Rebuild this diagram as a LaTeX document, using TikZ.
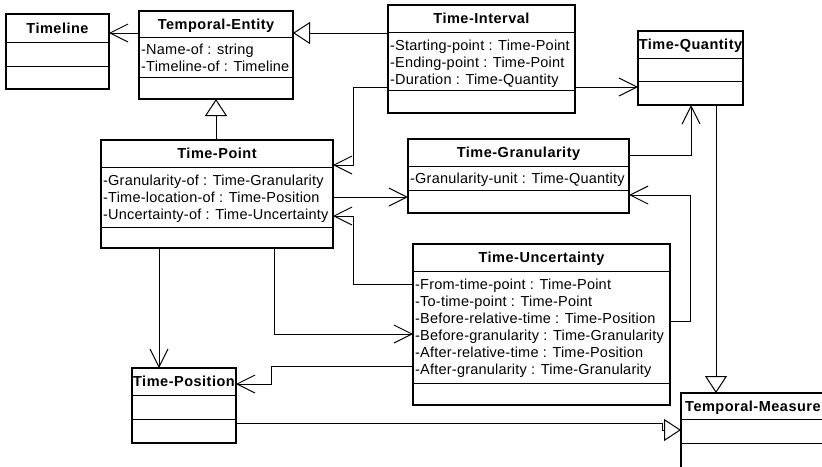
\documentclass[tikz,border=0pt]{standalone}
\usepackage{fontspec}
\setmainfont{Liberation Sans}
\newfontfamily\attrfont[LetterSpace=1.5]{Liberation Sans}
\newfontfamily\titlefont[LetterSpace=3.5]{Liberation Sans}
\usetikzlibrary{arrows.meta}

% A UML class box: name, left, top, right, bottom, title separator y, attribute separator y
\newcommand\umlclass[7]{%
  \node[classbox, minimum width={(#4-#2)*1pt}, minimum height={(#5-#3)*1pt}]
    (#1) at ({(#2+#4)/2},{(#3+#5)/2}) {};
  \draw[sepline] (#2,#6) -- (#4,#6);
  \draw[sepline] (#2,#7) -- (#4,#7);
}

\begin{document}
\begin{tikzpicture}[x=1pt,y=-1pt,
  classbox/.style={draw=black, line width=1.1pt, rectangle, inner sep=0pt, outer sep=0pt, fill=white},
  sepline/.style={line width=0.9pt},
  ctitle/.style={font=\titlefont\fontsize{14.5}{17}\selectfont\bfseries, inner sep=0pt, anchor=base, yshift=-5.2pt},
  cattr/.style={font=\attrfont\fontsize{14.5}{17}\selectfont, inner sep=0pt, anchor=base west, yshift=-5.2pt},
  assoc/.style={line width=0.9pt, -{Straight Barb[length=18pt, width=18pt, line width=1pt]}},
  gen/.style={line width=0.9pt, -{Triangle[open, length=17pt, width=22pt, line width=1pt, fill=white]}},
]
\useasboundingbox (0,0) rectangle (822,466);
\clip (0,0) rectangle (822,466);
\fill[white] (0,0) rectangle (822,466);

% ---- classes ----
\umlclass{tl}{6}{14}{109}{89}{42}{66}
\node[ctitle] (tl-t) at (57.5,28) {Timeline};

\umlclass{te}{139}{11}{293}{99}{37}{77}
\node[ctitle] (te-t) at (216,24) {Temporal-Entity};
\node[cattr] (te-a1) at (141,49) {-Name-of : string};
\node[cattr] (te-a2) at (141,66) {-Timeline-of : Timeline};

\umlclass{ti}{388}{5}{575}{113}{32}{90}
\node[ctitle] (ti-t) at (481.5,18.5) {Time-Interval};
\node[cattr] (ti-a1) at (390,45) {-Starting-point : Time-Point};
\node[cattr] (ti-a2) at (390,62) {-Ending-point : Time-Point};
\node[cattr] (ti-a3) at (390,79) {-Duration : Time-Quantity};

\umlclass{tq}{638}{31}{743}{105}{58}{81}
\node[ctitle] (tq-t) at (690.5,44.5) {Time-Quantity};

\umlclass{tp}{101}{140}{333}{248}{167}{227}
\node[ctitle] (tp-t) at (217,153.5) {Time-Point};
\node[cattr] (tp-a1) at (103,180) {-Granularity-of : Time-Granularity};
\node[cattr] (tp-a2) at (103,197) {-Time-location-of : Time-Position};
\node[cattr] (tp-a3) at (103,214) {-Uncertainty-of : Time-Uncertainty};

\umlclass{tg}{408}{139}{629}{213}{166}{190}
\node[ctitle] (tg-t) at (518.5,152.5) {Time-Granularity};
\node[cattr] (tg-a1) at (410,178) {-Granularity-unit : Time-Quantity};

\umlclass{tu}{413}{244}{670}{405}{271}{383}
\node[ctitle] (tu-t) at (541.5,257.5) {Time-Uncertainty};
\node[cattr] (tu-a1) at (415,284) {-From-time-point : Time-Point};
\node[cattr] (tu-a2) at (415,301) {-To-time-point : Time-Point};
\node[cattr] (tu-a3) at (415,318) {-Before-relative-time : Time-Position};
\node[cattr] (tu-a4) at (415,335) {-Before-granularity : Time-Granularity};
\node[cattr] (tu-a5) at (415,352) {-After-relative-time : Time-Position};
\node[cattr] (tu-a6) at (415,369) {-After-granularity : Time-Granularity};

\umlclass{tpos}{132}{368}{236}{443}{395}{419}
\node[ctitle] (tpos-t) at (184,381.5) {Time-Position};

% Temporal-Measure runs off the right and bottom edges: only its left and top sides show
\node[classbox, draw=none, minimum width=189pt, minimum height=107pt] (tm) at (775.5,446.5) {};
\draw[line width=1.1pt] (tm.north east) -- (tm.north west) -- (tm.south west);
\draw[sepline] (681,419) -- (870,419);
\draw[sepline] (681,443) -- (870,443);
\node[ctitle, anchor=base west] (tm-t) at (685,406) {Temporal-Measure};

% ---- generalisations ----
\draw[gen] (ti.west |- 0,33) -- (te.east |- 0,33);
\draw[gen] (tp.north -| te.south) -- (te.south);
\draw[gen] (716,0 |- tq.south) -- (716,0 |- tm.north);
\draw[gen] (tpos.east |- 0,423) -- (662,423) -- (662,430) -- (tm.west |- 0,430);

% ---- associations ----
\draw[assoc] (te.west |- 0,33) -- (tl.east |- 0,33);
\draw[assoc] (ti.east |- 0,87) -- (tq.west |- 0,87);
\draw[assoc] (ti.west |- 0,87) -| (353,165) -- (tp.east |- 0,165);
\draw[assoc] (tp.east |- tp-a2) -- (tg.west |- tp-a2);
\draw[assoc] (tg.east |- 0,155) -| (691,0 |- tq.south);
\draw[assoc] (tu.east |- 0,321) -| (690,195) -- (tg.east |- 0,195);
\draw[assoc] (159,0 |- tp.south) -- (159,0 |- tpos.north);
\draw[assoc] (274,0 |- tp.south) |- (tu.west |- 0,334);
\draw[assoc] (tu.west |- 0,284) -| (353,216) -- (tp.east |- 0,216);
\draw[assoc] (tu.west |- 0,366) -| (271,384) -- (tpos.east |- 0,384);
\end{tikzpicture}
\end{document}
